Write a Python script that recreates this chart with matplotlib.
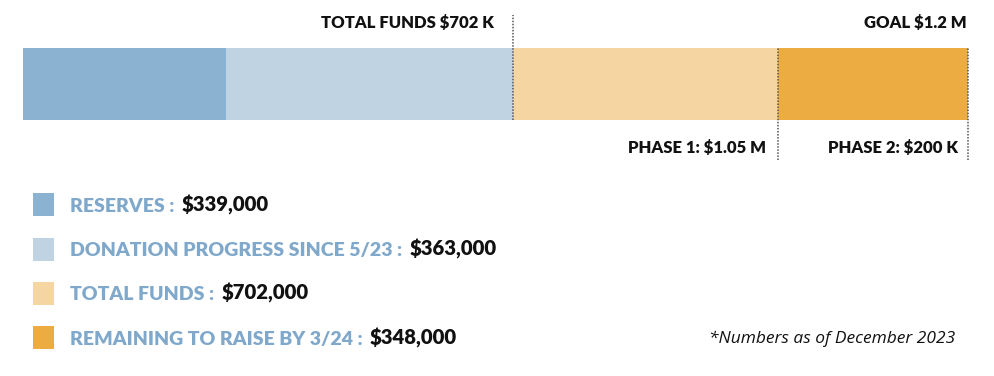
import matplotlib
matplotlib.use("Agg")
import matplotlib.pyplot as plt
from matplotlib.patches import Rectangle

plt.rcParams['font.family'] = ['Lato', 'DejaVu Sans']

# Data
categories = ["RESERVES", "DONATION PROGRESS SINCE 5/23", "TOTAL FUNDS", "REMAINING TO RAISE BY 3/24"]
legend_values = ["$339,000", "$363,000", "$702,000", "$348,000"]
# segment lengths as drawn in the picture (k$, scaled so the whole bar = 1200)
segment_widths = [258, 364, 337, 241]
colors = ["#8BB2D0", "#BFD3E2", "#F5D5A2", "#ECAC42"]
top_labels = ["TOTAL FUNDS $702 K", "GOAL $1.2 M"]
bottom_labels = ["PHASE 1: $1.05 M", "PHASE 2: $200 K"]
footnote = "*Numbers as of December 2023"

W, H = 994, 376
fig = plt.figure(figsize=(W / 100, H / 100), dpi=100)
fig.patch.set_facecolor("white")

# Overlay axes in pixel coordinates for legend/footnote
ov = fig.add_axes([0, 0, 1, 1])
ov.set_xlim(0, W)
ov.set_ylim(H, 0)
ov.axis("off")

# Bar axes
bx0, bx1, by0, by1 = 23, 968, 48, 120
ax = fig.add_axes([bx0 / W, 1 - by1 / H, (bx1 - bx0) / W, (by1 - by0) / H])
total = sum(segment_widths)
ax.set_xlim(0, total)
ax.set_ylim(0, 1)
ax.axis("off")

left = 0
for w, c in zip(segment_widths, colors):
    ax.barh(0.5, w, left=left, height=1.0, color=c, edgecolor="none")
    left += w

px_h = by1 - by0
def ay(py):
    return (by1 - py) / px_h

total_funds_x = segment_widths[0] + segment_widths[1]
phase1_x = total_funds_x + segment_widths[2]
goal_x = total

lc = "#555555"
ax.plot([total_funds_x] * 2, [ay(120), ay(15)], ls=(0, (1, 1)), color=lc, lw=1.1, clip_on=False)
for xv in (phase1_x, goal_x):
    ax.plot([xv] * 2, [ay(160), ay(48)], ls=(0, (1, 1)), color=lc, lw=1.1, clip_on=False)

lab_kw = dict(fontsize=12, fontweight="heavy", color="#111111", va="baseline", ha="right",
              annotation_clip=False)
ax.annotate(top_labels[0], xy=(total_funds_x, ay(28)), xytext=(-19, 0), textcoords="offset pixels", **lab_kw)
ax.annotate(top_labels[1], xy=(goal_x, ay(28)), xytext=(-1, 0), textcoords="offset pixels", **lab_kw)
ax.annotate(bottom_labels[0], xy=(phase1_x, ay(153)), xytext=(-12, 0), textcoords="offset pixels", **lab_kw)
ax.annotate(bottom_labels[1], xy=(goal_x, ay(153)), xytext=(-10, 0), textcoords="offset pixels", **lab_kw)

# Legend
sq_tops = [193, 238, 282, 326]
baselines = [212, 256, 300, 345]
for cat, val, c, st, bl in zip(categories, legend_values, colors, sq_tops, baselines):
    ov.add_patch(Rectangle((33, st), 21, 23, facecolor=c, edgecolor="none"))
    t1 = ov.text(70, bl, cat + " :", fontsize=14, fontweight="heavy", color="#7FA8CB", va="baseline", ha="left")
    ov.annotate(val, xy=(1, 0), xycoords=t1, xytext=(7, 0), textcoords="offset pixels",
                fontsize=14.6, fontweight="heavy", color="#111111", va="bottom", ha="left")

ov.text(955, 343, footnote, fontsize=12.5, style="italic", color="#111111", va="baseline", ha="right",
        family=["Open Sans", "DejaVu Sans"])

fig.savefig("out.png", dpi=100, facecolor="white")
